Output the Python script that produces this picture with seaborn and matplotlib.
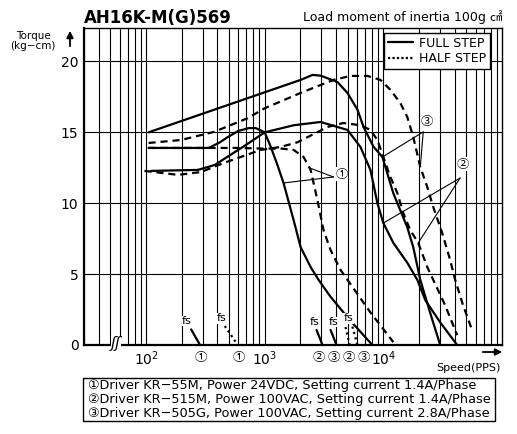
import matplotlib
matplotlib.use("Agg")
import matplotlib.pyplot as plt
import seaborn as sns
import pandas as pd
from matplotlib.ticker import LogLocator, NullFormatter, FixedLocator, FixedFormatter
from matplotlib.patches import Rectangle
from matplotlib.lines import Line2D

# ---------------- data ----------------
# Driver 1, full step
x_f1 = [105, 338, 420, 489, 600, 734, 840, 1000, 1122, 1280, 1445, 1754, 2009, 2438, 2843, 3589, 5290, 8090]
y_f1 = [13.9, 13.9, 14.3, 14.67, 15.1, 15.3, 15.3, 15.0, 14.0, 12.7, 11.4, 8.8, 6.9, 5.5, 4.6, 3.4, 1.7, 0.0]
# Driver 1, half step
x_h1 = [105, 338, 600, 1000, 1400, 1754, 2128, 2438, 2786, 3133, 3589, 4356, 4982, 7780, 12140]
y_h1 = [13.9, 13.9, 13.9, 13.85, 13.85, 13.76, 13.26, 12.35, 10.2, 8.1, 6.7, 5.3, 4.6, 2.3, 0.2]
# Driver 2, full step
x_f2 = [110, 273, 380, 470, 692, 1000, 1754, 2958, 4982, 6412, 7780, 8914, 10000, 12140, 15920, 19320, 22550, 30130, 41880]
y_f2 = [12.28, 12.35, 12.7, 13.2, 14.1, 15.0, 15.5, 15.73, 15.17, 13.97, 12.35, 10.0, 8.6, 7.2, 5.8, 4.6, 3.17, 1.6, 0.0]
# Driver 2, half step
x_h2 = [97, 186, 290, 452, 628, 925, 1361, 1892, 3381, 4613, 6412, 7780, 8914, 10000, 11460, 13120, 14730,
        16860, 19680, 23440, 26320, 33190, 41880]
y_h2 = [12.28, 12.0, 12.2, 12.84, 13.26, 13.76, 13.97, 14.3, 15.38, 15.66, 15.5, 15.17, 14.46, 13.26, 11.85,
        10.72, 9.3, 8.1, 7.2, 5.5, 4.6, 2.8, 0.7]
# Driver 3, full step
x_f3 = [105, 2009, 2531, 2958, 4106, 4982, 6048, 6796, 8245, 9816, 12140, 15920, 17870, 20470, 24830, 30130]
y_f3 = [15.0, 18.7, 19.05, 19.0, 18.55, 17.78, 16.6, 15.4, 14.0, 13.26, 10.7, 8.3, 6.9, 4.6, 2.26, 0.0]
# Driver 3, half step
x_h3 = [105, 197, 373, 720, 1000, 2009, 3802, 5290, 7345, 9440, 11460, 13900, 15920, 17870, 20470, 23440,
        26320, 31330, 36560, 40270, 46990, 55950]
y_h3 = [14.25, 14.46, 15.03, 16.0, 16.7, 17.78, 18.7, 18.98, 18.98, 18.7, 18.0, 17.07, 16.08, 14.67, 12.56,
        11.15, 9.74, 7.9, 6.0, 4.6, 2.8, 1.06]

# start-frequency (fs) short segments
fs_f1_x, fs_f1_y = [240, 285], [1.1, 0.0]
fs_h1_x, fs_h1_y = [461, 593], [1.34, 0.0]
fs_f2_x, fs_f2_y = [2735, 3070], [1.06, 0.0]
fs_f3_x, fs_f3_y = [3590, 4030], [1.06, 0.0]
fs_h2_x, fs_h2_y = [4800, 5200], [1.27, 0.0]
fs_h3_x, fs_h3_y = [5480, 6050], [1.3, 0.0]

y_ticks = [0, 5, 10, 15, 20]
x_ticks = [100, 1000, 10000]
x_tick_labels = ["$10^2$", "$10^3$", "$10^4$"]
title = "AH16K-M(G)569"
subtitle = "Load moment of inertia 100g ㎠"
notes = ["①Driver KR−55M, Power 24VDC, Setting current 1.4A/Phase",
         "②Driver KR−515M, Power 100VAC, Setting current 1.4A/Phase",
         "③Driver KR−505G, Power 100VAC, Setting current 2.8A/Phase"]

# ---------------- figure ----------------
sns.set_style("white")
plt.rcParams["font.family"] = ["DejaVu Sans", "Noto Sans CJK KR"]
for k in ["text.color", "axes.labelcolor", "xtick.color", "ytick.color", "axes.edgecolor"]:
    plt.rcParams[k] = "black"

W, H = 517, 434
fig = plt.figure(figsize=(W / 100, H / 100), dpi=100)
L, R, T, B = 84, 502, 28, 345
ax = fig.add_axes([L / W, 1 - B / H, (R - L) / W, (B - T) / H])

ax.set_xscale("log")
ax.set_xlim(30, 1e5)
ax.set_ylim(0, 22.36)

LW = 1.6
DASH = (0, (3.2, 2.2))
solid_curves = [(x_f1, y_f1), (x_f2, y_f2), (x_f3, y_f3)]
dash_curves = [(x_h1, y_h1), (x_h2, y_h2), (x_h3, y_h3)]
for xs, ys in dash_curves:
    sns.lineplot(x=xs, y=ys, ax=ax, color="black", lw=LW, linestyle=DASH,
                 estimator=None, sort=False, zorder=3)
for xs, ys in solid_curves:
    sns.lineplot(x=xs, y=ys, ax=ax, color="black", lw=LW, linestyle="-",
                 estimator=None, sort=False, zorder=4)

for xs, ys in [(fs_f1_x, fs_f1_y), (fs_f2_x, fs_f2_y), (fs_f3_x, fs_f3_y)]:
    sns.lineplot(x=xs, y=ys, ax=ax, color="black", lw=LW, estimator=None, sort=False, zorder=4)
for xs, ys in [(fs_h1_x, fs_h1_y), (fs_h2_x, fs_h2_y), (fs_h3_x, fs_h3_y)]:
    sns.lineplot(x=xs, y=ys, ax=ax, color="black", lw=LW, linestyle=(0, (1, 1.5)),
                 estimator=None, sort=False, zorder=4)

# grid
ax.xaxis.set_major_locator(FixedLocator(x_ticks))
ax.xaxis.set_major_formatter(FixedFormatter(x_tick_labels))
ax.xaxis.set_minor_locator(LogLocator(base=10, subs=range(2, 10), numticks=20))
ax.xaxis.set_minor_formatter(NullFormatter())
ax.set_yticks(y_ticks)
ax.set_yticklabels([str(v) for v in y_ticks])
ax.grid(True, which="both", axis="x", color="black", lw=0.8)
ax.grid(True, which="major", axis="y", color="black", lw=0.8)
ax.set_axisbelow(True)
ax.tick_params(which="both", length=0)
ax.tick_params(axis="y", labelsize=10, pad=4)
ax.tick_params(axis="x", labelsize=10, pad=3)
for s in ax.spines.values():
    s.set_color("black")
    s.set_linewidth(1.0)
ax.spines["left"].set_linewidth(1.6)
ax.spines["bottom"].set_linewidth(1.6)
ax.set_xlabel("")
ax.set_ylabel("")

# legend
handles = [Line2D([], [], color="black", lw=LW, linestyle="-"),
           Line2D([], [], color="black", lw=LW, linestyle=(0, (1, 1)))]
leg = ax.legend(handles, ["FULL STEP", "HALF STEP"], loc="upper right",
                bbox_to_anchor=(0.971, 0.984), borderaxespad=0, fontsize=9,
                handlelength=2.0, handletextpad=0.5, fancybox=False, framealpha=1,
                edgecolor="black", borderpad=0.3, labelspacing=0.2)
leg.get_frame().set_linewidth(1.0)
leg.set_zorder(10)

# fs labels
for xv, yv in [(221, 1.69), (435, 1.9), (2630, 1.62), (3800, 1.62), (5080, 1.9)]:
    ax.text(xv, yv, "fs", fontsize=8, ha="center", va="center", zorder=6,
            bbox=dict(facecolor="white", edgecolor="none", pad=0.3))

# circled numbers under the axis
for xv, lab in [(290, "①"), (605, "①"), (2843, "②"), (3802, "③"), (5080, "②"), (6796, "③")]:
    ax.annotate(lab, xy=(xv, 0), xycoords="data", xytext=(0, -9), textcoords="offset points",
                ha="center", va="center", fontsize=9, annotation_clip=False,
                family=["Noto Sans CJK KR", "DejaVu Sans"])

# pointer annotations
def pointer(label_xy, origin, targets):
    for tx, ty in targets:
        ax.plot([origin[0], tx], [origin[1], ty], color="black", lw=0.8, zorder=5)
    ax.text(label_xy[0], label_xy[1], label_xy[2], fontsize=9, ha="center", va="center", zorder=6,
            family=["Noto Sans CJK KR", "DejaVu Sans"],
            bbox=dict(facecolor="white", edgecolor="none", pad=0.2))

pointer((4436, 12.05, "①"), (3802, 11.85), [(2388, 12.49), (1445, 11.43)])
pointer((23440, 15.8, "③"), (21690, 15.03), [(9816, 13.26), (20470, 12.56)])
pointer((46990, 12.75, "②"), (44370, 11.78), [(10000, 8.6), (19680, 7.2)])

# axis break mark
ax.text(56, 0.1, "ʃʃ", fontsize=11, ha="center", va="center", zorder=7, style="italic",
        bbox=dict(facecolor="white", edgecolor="none", pad=0.0))

# titles and axis notes
fig.text(L / W, 1 - 18 / H, title, fontsize=12, fontweight="bold", ha="left", va="center")
fig.text(R / W, 1 - 17 / H, subtitle, fontsize=9, ha="right", va="center")
fig.text(33 / W, 1 - 41 / H, "Torque\n(kg−cm)", fontsize=7.5, ha="center", va="center",
         linespacing=1.05)
ax.annotate("", xy=(70 / W, 1 - 28 / H), xytext=(70 / W, 1 - 49 / H), xycoords="figure fraction",
            arrowprops=dict(arrowstyle="-|>", color="black", lw=1.3, mutation_scale=10))
ax.annotate("", xy=(505 / W, 1 - 352 / H), xytext=(480 / W, 1 - 352 / H), xycoords="figure fraction",
            arrowprops=dict(arrowstyle="-|>", color="black", lw=1.3, mutation_scale=10))
fig.text(501 / W, 1 - 368 / H, "Speed(PPS)", fontsize=8, ha="right", va="center")

# notes box
fig.patches.append(Rectangle((83 / W, 1 - 421 / H), (495 - 83) / W, (421 - 378) / H,
                             transform=fig.transFigure, fill=False, edgecolor="black", lw=1.0))
for i, line in enumerate(notes):
    fig.text(88 / W, 1 - (386 + 13.5 * i) / H, line, fontsize=9.3, ha="left", va="center")

fig.savefig("out.png", dpi=100)
